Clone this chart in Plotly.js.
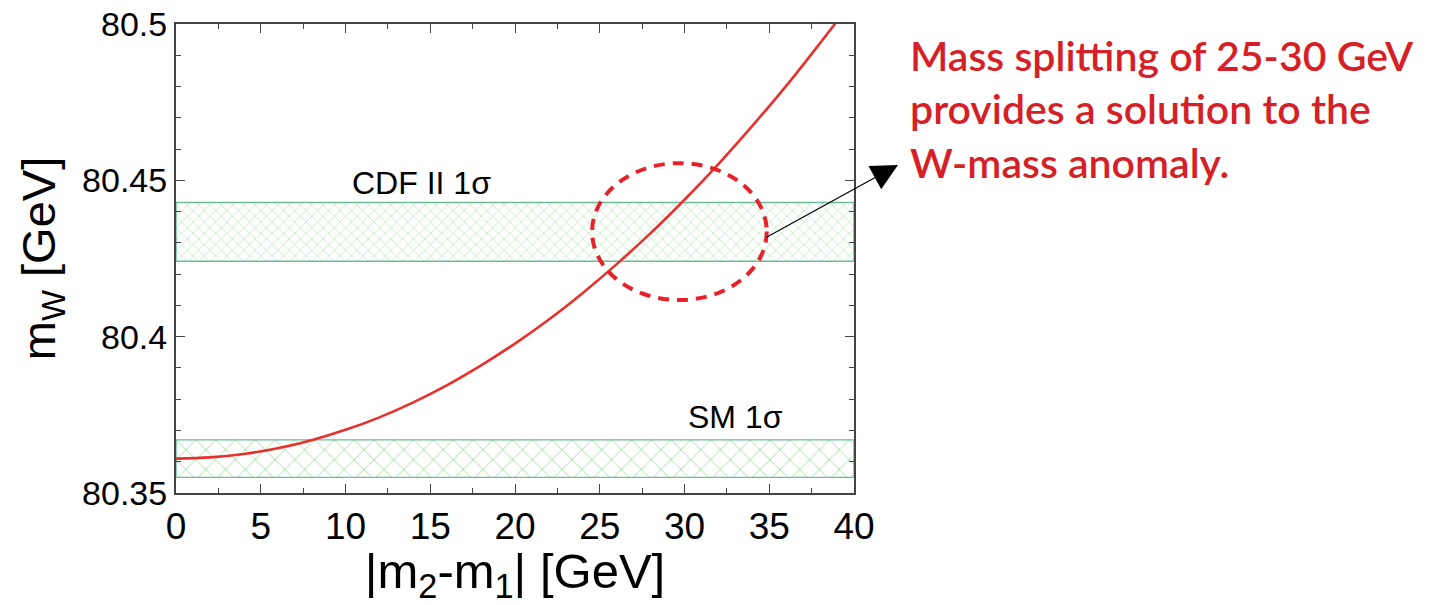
<!DOCTYPE html>
<html>
<head>
<meta charset="utf-8">
<script src="https://cdn.plot.ly/plotly-3.0.1.min.js"></script>
<style>html,body{margin:0;padding:0;background:#fff;}#chart{width:1433px;height:605px;}</style>
</head>
<body>
<div id="chart"></div>
<script>
// Data
const massSplitting = [0, 2, 4, 6, 8, 10, 12, 14, 16, 18, 20, 22, 24, 26, 28, 30, 32, 34, 36, 38, 40];
const mW = [80.3610, 80.3614, 80.3625, 80.3643, 80.3669, 80.3702, 80.3742, 80.3790, 80.3845, 80.3908, 80.3978,
            80.4055, 80.4140, 80.4232, 80.4331, 80.4438, 80.4552, 80.4674, 80.4802, 80.4939, 80.5080];
const smBand = [80.355, 80.367];
const cdfBand = [80.4241, 80.4429];
const xRange = [0, 40];
const yRange = [80.35, 80.5];
const xTicks = [0, 5, 10, 15, 20, 25, 30, 35, 40];
const yTicks = [80.35, 80.4, 80.45, 80.5];
const yTickText = ['80.35', '80.4', '80.45', '80.5'];
const labels = {cdf: 'CDF II 1σ', sm: 'SM 1σ'};
const noteText = 'Mass splitting of 25-30 GeV<br>provides a solution to the<br>W-mass anomaly.';
const ellipse = {x: [24.55, 34.85], y: [80.4117, 80.4555]};

function bandTrace(lims, cell) {
  return {
    x: [xRange[0], xRange[1], xRange[1], xRange[0], xRange[0]],
    y: [lims[0], lims[0], lims[1], lims[1], lims[0]],
    mode: 'lines', fill: 'toself',
    fillcolor: 'rgba(255,255,255,0)',
    fillpattern: {shape: 'x', fgcolor: '#9cdc9c', bgcolor: 'rgba(255,255,255,0)', size: cell, solidity: 0.12},
    line: {color: '#6cbc9a', width: 1.4},
    hoverinfo: 'skip', showlegend: false
  };
}

const traces = [
  bandTrace(smBand, 14),
  bandTrace(cdfBand, 8),
  {x: massSplitting, y: mW, mode: 'lines', line: {color: '#e8302c', width: 2.6, shape: 'spline'}, showlegend: false}
];

const layout = {
  width: 1433, height: 605,
  margin: {l: 176, r: 579, t: 24, b: 112, pad: 0},
  paper_bgcolor: '#fff', plot_bgcolor: '#fff',
  font: {family: 'Liberation Sans, Arial, sans-serif', color: '#000'},
  showlegend: false,
  xaxis: {
    range: xRange, tickvals: xTicks, ticks: 'inside', ticklen: 9, tickcolor: '#444', tickwidth: 1,
    minor: {dtick: 2.5, ticks: 'inside', ticklen: 5, tickcolor: '#444'},
    showgrid: false, zeroline: false, showline: true, linecolor: '#444', linewidth: 2, mirror: 'ticks',
    tickfont: {size: 37, color: '#000'},
    title: {text: '|m<sub>2</sub>-m<sub>1</sub>| [GeV]', font: {size: 49, color: '#000'}, standoff: 8}
  },
  yaxis: {
    range: yRange, tickvals: yTicks, ticktext: yTickText, ticks: 'inside', ticklen: 9, tickcolor: '#444', tickwidth: 1,
    minor: {dtick: 0.01, ticks: 'inside', ticklen: 5, tickcolor: '#444'},
    showgrid: false, zeroline: false, showline: true, linecolor: '#444', linewidth: 2, mirror: 'ticks',
    tickfont: {size: 34, color: '#000'},
    title: {text: 'm<sub>W</sub> [GeV]', font: {size: 47, color: '#000'}, standoff: 12}
  },
  shapes: [
    {type: 'circle', xref: 'x', yref: 'y', x0: ellipse.x[0], x1: ellipse.x[1], y0: ellipse.y[0], y1: ellipse.y[1],
     line: {color: '#e8202a', width: 4, dash: '11px,8px'}}
  ],
  annotations: [
    {x: 14.5, y: 80.4429, xref: 'x', yref: 'y', text: labels.cdf, showarrow: false, yanchor: 'bottom', yshift: 0,
     font: {size: 32, color: '#000'}},
    {x: 33.0, y: 80.367, xref: 'x', yref: 'y', text: labels.sm, showarrow: false, yanchor: 'bottom', yshift: 3,
     font: {size: 32, color: '#000'}},
    {x: 1.0649, y: 0.6994, xref: 'paper', yref: 'paper', text: '', showarrow: true, ax: -133, ay: 73,
     arrowhead: 2, arrowsize: 4.4, arrowwidth: 1.2, arrowcolor: '#000', standoff: 0},
    {x: 1.08, y: 0.99, xref: 'paper', yref: 'paper', xanchor: 'left', yanchor: 'top', align: 'left', showarrow: false,
     text: noteText, font: {family: 'Lato, sans-serif', size: 41, color: '#d61f26', weight: 600}}
  ]
};

Plotly.newPlot('chart', traces, layout, {displayModeBar: false, staticPlot: true});
</script>
</body>
</html>
